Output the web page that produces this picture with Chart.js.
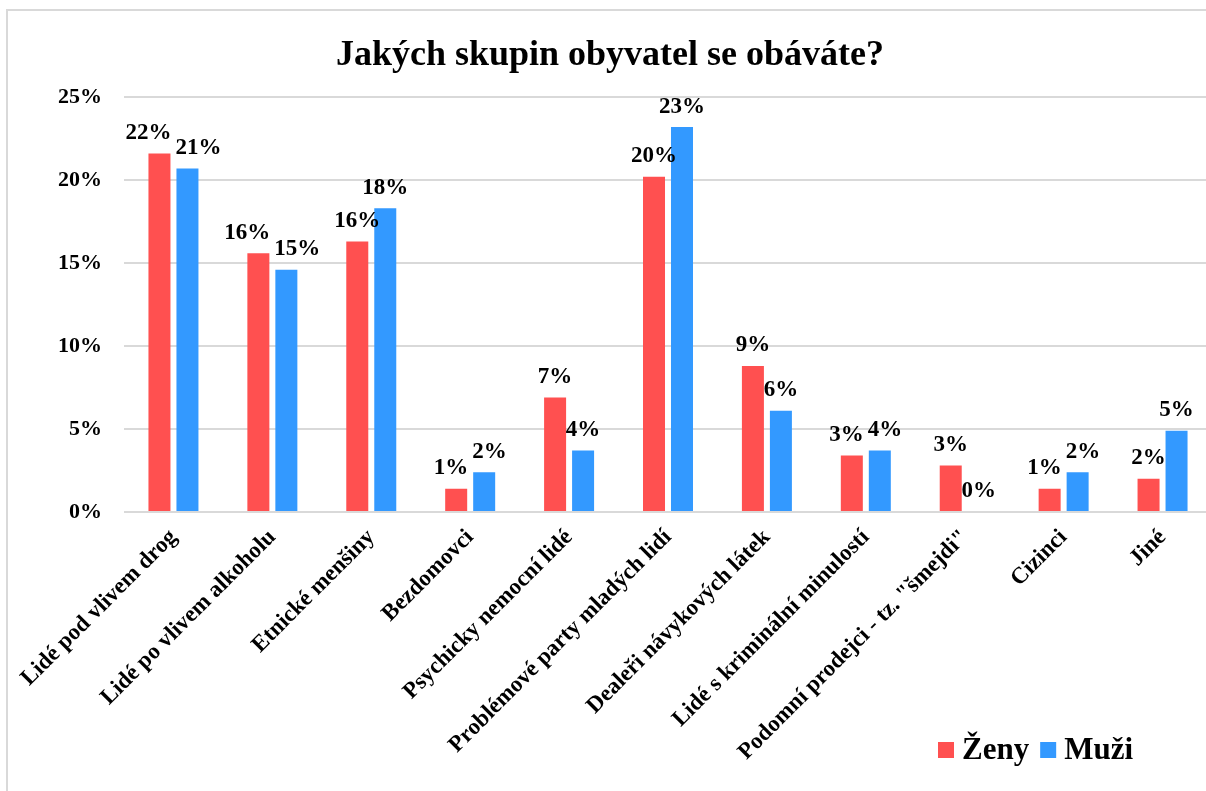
<!DOCTYPE html>
<html>
<head>
<meta charset="utf-8">
<script src="https://cdn.jsdelivr.net/npm/chart.js@4/dist/chart.umd.min.js"></script>
<style>
  html, body { margin: 0; padding: 0; background: #fff; overflow: hidden; }
  #frame {
    position: absolute; left: 6px; top: 9px;
    width: 1214px; height: 800px;
    border-left: 2px solid #d9d9d9; border-top: 2px solid #d9d9d9;
  }
  #chart { position: absolute; left: 0; top: 0; }
</style>
</head>
<body>
<div id="frame"><canvas id="chart" width="1204" height="780"></canvas></div>
<script>
// categories and values (percent)
var categories = [
  'Lidé pod vlivem drog',
  'Lidé po vlivem alkoholu',
  'Etnické menšiny',
  'Bezdomovci',
  'Psychicky nemocní lidé',
  'Problémové party mladých lidí',
  'Dealeři návykových látek',
  'Lidé s kriminální minulostí',
  'Podomní prodejci - tz. "šmejdi"',
  'Cizinci',
  'Jiné'
];
var zeny = [21.6, 15.6, 16.3, 1.4, 6.9, 20.2, 8.8, 3.4, 2.8, 1.4, 2.0];
var muzi = [20.7, 14.6, 18.3, 2.4, 3.7, 23.2, 6.1, 3.7, 0, 2.4, 4.9];
var seriesNames = ['Ženy', 'Muži'];
var seriesColors = ['#FF5050', '#3399FF'];

var serif = "'Liberation Serif', 'Times New Roman', serif";

// value labels above bars, pushed apart sideways when a pair would collide
var barLabels = {
  id: 'barLabels',
  afterDatasetsDraw: function(chart) {
    var ctx = chart.ctx;
    ctx.save();
    ctx.font = 'bold 23px ' + serif;
    ctx.fillStyle = '#000';
    ctx.textAlign = 'center';
    ctx.textBaseline = 'bottom';
    var a = chart.getDatasetMeta(0).data, b = chart.getDatasetMeta(1).data;
    var d0 = chart.data.datasets[0].data, d1 = chart.data.datasets[1].data;
    for (var j = 0; j < a.length; j++) {
      var t0 = Math.round(d0[j]) + '%', t1 = Math.round(d1[j]) + '%';
      var w0 = ctx.measureText(t0).width, w1 = ctx.measureText(t1).width;
      var x0 = a[j].x, x1 = b[j].x;
      var y0 = a[j].y - 9, y1 = b[j].y - 9;
      var need = (w0 + w1) / 2 + 4;
      if (Math.abs(y0 - y1) < 24 && x1 - x0 < need) {
        var push = (need - (x1 - x0)) / 2;
        x0 -= push;
        x1 += push;
      }
      ctx.fillText(t0, x0, y0);
      ctx.fillText(t1, x1, y1);
    }
    ctx.restore();
  }
};

// legend in the lower right corner
var cornerLegend = {
  id: 'cornerLegend',
  afterDraw: function(chart) {
    var ctx = chart.ctx;
    ctx.save();
    ctx.font = 'bold 31px ' + serif;
    ctx.textBaseline = 'middle';
    ctx.textAlign = 'left';
    var x = 930, y = 739;
    chart.data.datasets.forEach(function(ds) {
      ctx.fillStyle = ds.backgroundColor;
      ctx.fillRect(x, y - 8, 16, 16);
      ctx.fillStyle = '#000';
      ctx.fillText(ds.label, x + 24, y + 1);
      x += 24 + ctx.measureText(ds.label).width + 11;
    });
    ctx.restore();
  }
};

new Chart(document.getElementById('chart'), {
  type: 'bar',
  data: {
    labels: categories,
    datasets: [
      { label: seriesNames[0], data: zeny, backgroundColor: seriesColors[0] },
      { label: seriesNames[1], data: muzi, backgroundColor: seriesColors[1] }
    ]
  },
  options: {
    responsive: false,
    animation: false,
    categoryPercentage: 0.566,
    barPercentage: 0.786,
    layout: { padding: 0 },
    plugins: {
      legend: { display: false },
      tooltip: { enabled: false },
      title: {
        display: true,
        text: 'Jakých skupin obyvatel se obáváte?',
        color: '#000',
        font: { family: serif, size: 36, weight: 'bold' },
        padding: { top: 23, bottom: 20 }
      }
    },
    scales: {
      x: {
        grid: { display: false, drawTicks: false },
        border: { display: false },
        ticks: {
          color: '#000',
          font: { family: serif, size: 23, weight: 'bold' },
          minRotation: 45,
          maxRotation: 45,
          padding: 12,
          autoSkip: false
        },
        afterFit: function(scale) {
          scale.height = 279;
          scale.paddingLeft = 0;
          scale.paddingRight = 0;
        }
      },
      y: {
        min: 0,
        max: 25,
        grid: { color: '#d9d9d9', lineWidth: 2, drawTicks: false },
        border: { display: false },
        ticks: {
          stepSize: 5,
          color: '#000',
          padding: 22,
          font: { family: serif, size: 22, weight: 'bold' },
          callback: function(v) { return v + '%'; }
        },
        afterFit: function(scale) {
          scale.width = 116;
        }
      }
    }
  },
  plugins: [barLabels, cornerLegend]
});
</script>
</body>
</html>
